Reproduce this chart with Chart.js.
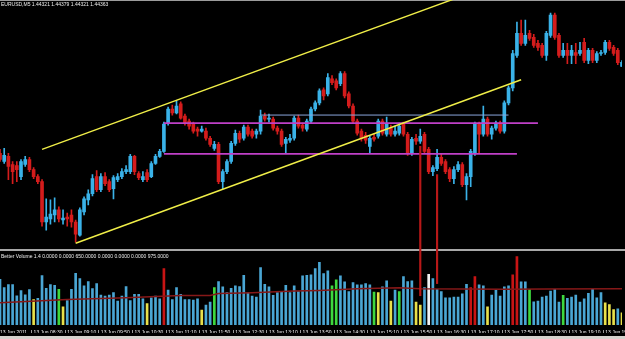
<!DOCTYPE html>
<html><head><meta charset="utf-8">
<script src="https://cdn.jsdelivr.net/npm/chart.js@4.4.1/dist/chart.umd.min.js"></script>
<style>
html,body{margin:0;padding:0;background:#000;overflow:hidden;}
#wrap{position:relative;width:625px;height:339px;background:#000;}
canvas{display:block;}
</style></head><body>
<div id="wrap"><canvas id="c" width="625" height="339"></canvas></div>
<script>
// ---- categories (M5 bar times, 13 Jun 2011) ----
const times = ['07:50','07:55',
'08:00','08:05','08:10','08:15','08:20','08:25','08:30','08:35','08:40','08:45','08:50','08:55',
'09:00','09:05','09:10','09:15','09:20','09:25','09:30','09:35','09:40','09:45','09:50','09:55',
'10:00','10:05','10:10','10:15','10:20','10:25','10:30','10:35','10:40','10:45','10:50','10:55',
'11:00','11:05','11:10','11:15','11:20','11:25','11:30','11:35','11:40','11:45','11:50','11:55',
'12:00','12:05','12:10','12:15','12:20','12:25','12:30','12:35','12:40','12:45','12:50','12:55',
'13:00','13:05','13:10','13:15','13:20','13:25','13:30','13:35','13:40','13:45','13:50','13:55',
'14:00','14:05','14:10','14:15','14:20','14:25','14:30','14:35','14:40','14:45','14:50','14:55',
'15:00','15:05','15:10','15:15','15:20','15:25','15:30','15:35','15:40','15:45','15:50','15:55',
'16:00','16:05','16:10','16:15','16:20','16:25','16:30','16:35','16:40','16:45','16:50','16:55',
'17:00','17:05','17:10','17:15','17:20','17:25','17:30','17:35','17:40','17:45','17:50','17:55',
'18:00','18:05','18:10','18:15','18:20','18:25','18:30','18:35','18:40','18:45','18:50','18:55',
'19:00','19:05','19:10','19:15','19:20','19:25','19:30','19:35','19:40','19:45','19:50','19:55',
'20:00','20:05','20:10'];
const dayLabel = '13 Jun 2011';
const datePrefix = '13 Jun ';
const tickEvery = 8;
const symbol = 'EURUSD';
const timeframe = 'M5';

// ---- OHLC series ----
const opens = [
1.4346,1.4338,1.4343,1.4335,1.4334,1.4323,1.4335,1.4340,1.4330,1.4323,
1.4318,1.4278,1.4281,1.4285,1.4290,1.4280,1.4283,1.4285,1.4278,1.4265,
1.4288,1.4300,1.4306,1.4323,1.4310,1.4323,1.4318,1.4311,1.4320,1.4323,
1.4328,1.4328,1.4343,1.4326,1.4320,1.4327,1.4323,1.4336,1.4343,1.4348,
1.4376,1.4390,1.4386,1.4395,1.4383,1.4378,1.4375,1.4370,1.4368,1.4368,
1.4361,1.4351,1.4355,1.4318,1.4328,1.4338,1.4356,1.4366,1.4361,1.4372,
1.4368,1.4365,1.4368,1.4383,1.4380,1.4380,1.4371,1.4368,1.4356,1.4359,
1.4361,1.4381,1.4374,1.4370,1.4378,1.4390,1.4396,1.4409,1.4405,1.4420,
1.4418,1.4415,1.4425,1.4405,1.4393,1.4378,1.4368,1.4364,1.4353,1.4362,
1.4363,1.4378,1.4365,1.4371,1.4365,1.4366,1.4375,1.4365,1.4346,1.4361,
1.4358,1.4365,1.4350,1.4328,1.4331,1.4342,1.4338,1.4330,1.4321,1.4330,
1.4335,1.4315,1.4323,1.4346,1.4375,1.4365,1.4380,1.4365,1.4371,1.4376,
1.4368,1.4396,1.4411,1.4443,1.4465,1.4455,1.4465,1.4461,1.4455,1.4453,
1.4443,1.4463,1.4483,1.4463,1.4443,1.4448,1.4443,1.4446,1.4445,1.4456,
1.4438,1.4448,1.4438,1.4445,1.4446,1.4456,1.4451,1.4448,1.44321];
const highs = [
1.4350,1.4351,1.4346,1.4338,1.4338,1.4340,1.4343,1.4342,1.4332,1.4325,
1.4320,1.4301,1.4300,1.4302,1.4293,1.4290,1.4287,1.4290,1.4280,1.4292,
1.4303,1.4310,1.4325,1.4329,1.4326,1.4327,1.4320,1.4324,1.4326,1.4331,
1.4334,1.4345,1.4344,1.4328,1.4328,1.4330,1.4338,1.4345,1.4350,1.4377,
1.4392,1.4394,1.4398,1.4397,1.4385,1.4380,1.4377,1.4372,1.4373,1.4371,
1.4363,1.4358,1.4357,1.4330,1.4340,1.4358,1.4369,1.4368,1.4374,1.4374,
1.4370,1.4370,1.4389,1.4386,1.4385,1.4382,1.4373,1.4370,1.4362,1.4365,
1.4383,1.4384,1.4376,1.4380,1.4392,1.4398,1.4410,1.4411,1.4425,1.4423,
1.4420,1.4427,1.4427,1.4407,1.4395,1.4380,1.4370,1.4367,1.4363,1.4365,
1.4380,1.4380,1.4382,1.4374,1.4373,1.4376,1.4377,1.4367,1.4362,1.4365,
1.4370,1.4367,1.4352,1.4334,1.4350,1.4345,1.4340,1.4332,1.4333,1.4338,
1.4337,1.4326,1.4350,1.4377,1.4377,1.4393,1.4382,1.4373,1.4378,1.4378,
1.4398,1.4413,1.4448,1.4476,1.4478,1.4478,1.4468,1.4464,1.4458,1.4455,
1.4467,1.4485,1.4485,1.4465,1.4455,1.4455,1.4453,1.4455,1.4456,1.4460,
1.4450,1.4450,1.4447,1.4448,1.4458,1.4458,1.4453,1.4450,1.44379];
const lows = [
1.4338,1.4336,1.4320,1.4316,1.4318,1.4320,1.4333,1.4328,1.4321,1.4316,
1.4274,1.4270,1.4276,1.4278,1.4278,1.4276,1.4274,1.4273,1.4258,1.4264,
1.4285,1.4295,1.4304,1.4308,1.4308,1.4314,1.4308,1.4301,1.4318,1.4321,
1.4326,1.4326,1.4325,1.4320,1.4318,1.4318,1.4322,1.4335,1.4342,1.4347,
1.4374,1.4384,1.4385,1.4380,1.4374,1.4370,1.4366,1.4363,1.4367,1.4359,
1.4353,1.4349,1.4316,1.4311,1.4326,1.4336,1.4354,1.4357,1.4359,1.4363,
1.4361,1.4361,1.4365,1.4378,1.4377,1.4369,1.4365,1.4353,1.4346,1.4357,
1.4359,1.4371,1.4368,1.4368,1.4376,1.4388,1.4394,1.4399,1.4403,1.4414,
1.4409,1.4413,1.4401,1.4391,1.4376,1.4364,1.4358,1.4356,1.4346,1.4358,
1.4361,1.4364,1.4363,1.4363,1.4363,1.4364,1.4363,1.4344,1.4344,1.4355,
1.4356,1.4346,1.4326,1.4324,1.4329,1.4334,1.4326,1.4318,1.4316,1.4328,
1.4313,1.4300,1.4313,1.4344,1.4346,1.4363,1.4363,1.4360,1.4369,1.4366,
1.4366,1.4394,1.4408,1.4441,1.4453,1.4453,1.4458,1.4451,1.4448,1.4441,
1.4438,1.4461,1.4459,1.4441,1.4441,1.4435,1.4435,1.4435,1.4443,1.4436,
1.4435,1.4436,1.4436,1.4443,1.4444,1.4448,1.4443,1.4434,1.44321];
const closes = [
1.4340,1.4344,1.4333,1.4328,1.4330,1.4338,1.4340,1.4330,1.4323,1.4318,
1.4278,1.4283,1.4286,1.4290,1.4281,1.4282,1.4281,1.4278,1.4266,1.4290,
1.4301,1.4306,1.4321,1.4310,1.4323,1.4316,1.4310,1.4322,1.4323,1.4328,
1.4330,1.4343,1.4328,1.4322,1.4323,1.4320,1.4336,1.4343,1.4348,1.4375,
1.4390,1.4386,1.4393,1.4381,1.4376,1.4373,1.4368,1.4368,1.4370,1.4361,
1.4355,1.4355,1.4318,1.4328,1.4338,1.4356,1.4366,1.4360,1.4372,1.4365,
1.4363,1.4368,1.4383,1.4380,1.4381,1.4371,1.4368,1.4355,1.4360,1.4361,
1.4381,1.4373,1.4371,1.4378,1.4390,1.4396,1.4408,1.4403,1.4421,1.4416,
1.4411,1.4425,1.4403,1.4393,1.4378,1.4366,1.4361,1.4359,1.4361,1.4360,
1.4378,1.4366,1.4375,1.4365,1.4368,1.4373,1.4365,1.4346,1.4360,1.4358,
1.4363,1.4348,1.4328,1.4332,1.4342,1.4336,1.4328,1.4321,1.4330,1.4335,
1.4315,1.4323,1.4348,1.4375,1.4365,1.4380,1.4365,1.4371,1.4376,1.4368,
1.4396,1.4411,1.4445,1.4465,1.4455,1.4463,1.4460,1.4453,1.4451,1.4443,
1.4465,1.4483,1.4461,1.4443,1.4448,1.4443,1.4448,1.4443,1.4448,1.4438,
1.4448,1.4438,1.4445,1.4446,1.4456,1.4450,1.4445,1.4436,1.44363];

// ---- Better Volume indicator ----
const volumes = [
453,370,400,400,290,340,300,350,253,263,
490,363,400,393,353,180,243,353,513,460,
387,430,360,410,297,287,297,320,237,287,
380,243,303,303,260,213,270,287,260,560,
347,253,370,303,253,253,247,260,147,197,
227,370,430,377,320,363,387,380,493,320,
287,277,570,403,377,293,320,330,393,320,
387,330,487,493,497,560,620,510,537,387,
447,487,427,330,420,397,397,410,397,327,
320,377,437,237,347,330,480,430,437,227,
197,370,503,460,353,330,270,270,277,277,
310,403,370,480,397,387,180,297,347,287,
377,387,497,677,427,427,353,230,237,277,
287,337,353,227,293,263,277,297,227,260,
313,353,270,320,220,203,153,160,120];
// N normal, L low volume, C churn, U climax up, D climax down
const volType = [
'N','N','N','N','N','N','N','N','L','N',
'N','N','N','N','C','L','N','N','N','N',
'N','N','N','N','N','N','N','N','N','N',
'N','N','N','N','N','L','N','N','N','U',
'N','N','N','N','N','N','N','N','L','N',
'N','C','N','N','N','N','N','N','N','N',
'N','N','N','N','N','N','N','N','N','N',
'N','N','N','N','N','N','N','N','N','C',
'C','N','N','N','N','N','N','N','N','C',
'L','N','N','L','N','C','N','N','N','L',
'L','N','D','N','N','N','N','N','N','N',
'N','N','U','U','N','N','L','N','N','N',
'N','N','U','U','N','N','C','N','N','N',
'N','N','N','N','C','N','N','N','N','N',
'N','N','N','N','L','L','L','N','L'];
const volAvgIdx = [0,16,30,40,43,50,52,60,70,76,85,95,100,110,120,130,148];
const volAvgVal = [220,253,270,287,293,293,313,320,337,343,360,370,360,357,353,357,360];
const volBuffers = ['1.4','0.0000','0.0000','650.0000','0.0000','0.0000','0.0000','975.0000'];

// ---- drawn objects (bar index, price) ----
const channelUpper = [[10, 1.4350], [110, 1.4502]];
const channelLower = [[18, 1.4257], [124, 1.4419]];
const rangeTop = [[39, 1.4376], [128, 1.4376]];
const rangeBottom = [[39, 1.43455], [123, 1.43455]];
const levelBlue = [[62, 1.4384], [121, 1.4384]];
const spikeIdx = [100, 104];
const spikeTop = [1.4353, 1.4325];
const spikeBottom = [1.4205, 1.4217];

// ---- styles ----
const BULL = '#3ab2e8', BEAR = '#d41c1c';
const VOLCOL = {N:'#4aa6d4', L:'#e8e04a', C:'#3ed83e', U:'#c81414', D:'#f2f2f2'};

const pts = arr => arr.map(p => ({x: times[p[0]], y: p[1]}));
const candleColor = opens.map((o, i) => closes[i] >= o ? BULL : BEAR);
const last = opens.length - 1;
const titleText = symbol + ',' + timeframe + ' ' +
  [opens[last], highs[last], lows[last], closes[last]].map(v => v.toFixed(5)).join(' ');
const volLabel = 'Better Volume ' + volBuffers.join(' ');

const mt4Chrome = {
  id: 'mt4Chrome',
  beforeDatasetsDraw(chart) {
    const {ctx, width} = chart;
    const yv = chart.scales.yv;
    ctx.save();
    ctx.fillStyle = '#9c9c9c';
    ctx.fillRect(0, 0, width, 1);
    ctx.fillStyle = '#a8a8a8';
    ctx.fillRect(0, Math.round(yv.top), width, 2);
    ctx.restore();
  },
  afterDraw(chart) {
    const {ctx, width, height} = chart;
    const yv = chart.scales.yv;
    ctx.save();
    ctx.font = '5px "Liberation Sans", Arial, sans-serif';
    ctx.fillStyle = '#ececec';
    ctx.textBaseline = 'middle';
    ctx.textAlign = 'left';
    ctx.fillText(titleText, 1, 5);
    ctx.fillText(volLabel, 1, yv.top + 7);
    ctx.fillStyle = '#d6d3ce';
    ctx.fillRect(0, height - 3, width, 3);
    ctx.restore();
  }
};

const hiddenY = {
  display: true,
  position: 'left',
  grid: {display: false},
  border: {display: false},
  ticks: {display: false},
  afterFit: s => { s.width = 0; }
};

new Chart(document.getElementById('c'), {
  type: 'bar',
  data: {
    labels: times,
    datasets: [
      { type: 'bar', data: spikeIdx.map((k, j) => ({x: times[k], y: [spikeTop[j], spikeBottom[j]]})),
        backgroundColor: '#b81818', barThickness: 1.5, grouped: false, clip: false, yAxisID: 'y', order: 0 },
      { type: 'line', data: pts(channelUpper), borderColor: '#f0ee48', borderWidth: 1.4,
        pointRadius: 0, fill: false, clip: false, yAxisID: 'y', order: 1 },
      { type: 'line', data: pts(channelLower), borderColor: '#f0ee48', borderWidth: 1.4,
        pointRadius: 0, fill: false, clip: false, yAxisID: 'y', order: 1 },
      { type: 'line', data: pts(rangeTop), borderColor: '#c040c8', borderWidth: 1.8,
        pointRadius: 0, fill: false, yAxisID: 'y', order: 2 },
      { type: 'line', data: pts(rangeBottom), borderColor: '#c040c8', borderWidth: 1.8,
        pointRadius: 0, fill: false, yAxisID: 'y', order: 2 },
      { type: 'line', data: pts(levelBlue), borderColor: '#8aa6dc', borderWidth: 1,
        pointRadius: 0, fill: false, yAxisID: 'y', order: 2 },
      { type: 'bar', data: opens.map((o, i) => [o, closes[i]]), backgroundColor: candleColor,
        barThickness: 3, minBarLength: 1, grouped: false, yAxisID: 'y', order: 3 },
      { type: 'bar', data: lows.map((l, i) => [l, highs[i]]), backgroundColor: candleColor,
        barThickness: 1, grouped: false, yAxisID: 'y', order: 4 },
      { type: 'line', data: volAvgIdx.map((k, j) => ({x: times[k], y: volAvgVal[j]})),
        borderColor: '#861818', borderWidth: 1.5, pointRadius: 0, fill: false, yAxisID: 'yv', order: 5 },
      { type: 'bar', data: volumes, backgroundColor: volType.map(t => VOLCOL[t]),
        barThickness: 2, grouped: false, yAxisID: 'yv', order: 6 }
    ]
  },
  options: {
    responsive: false,
    animation: false,
    events: [],
    layout: {padding: {top: 2, right: 3, left: 0, bottom: 6}},
    plugins: {legend: {display: false}, tooltip: {enabled: false}, title: {display: false}},
    scales: {
      x: {
        type: 'category',
        offset: false,
        border: {display: false},
        grid: {
          display: true, drawOnChartArea: false, drawTicks: true, tickLength: 8,
          color: c => (c.index % tickEvery === 0 ? '#9a9a9a' : 'rgba(0,0,0,0)'),
          tickBorderDash: [0, 5, 3, 30]
        },
        ticks: {
          autoSkip: false, maxRotation: 0, minRotation: 0, align: 'start', padding: -3,
          color: '#f2f2f2', font: {family: 'Liberation Sans', size: 5},
          callback: (v, i) => (i % tickEvery === 0 ? (i === 0 ? dayLabel : datePrefix + times[i]) : '')
        }
      },
      y: Object.assign({}, hiddenY, {stack: 'panes', stackWeight: 245, weight: 2, min: 1.4251, max: 1.4496}),
      yv: Object.assign({}, hiddenY, {stack: 'panes', stackWeight: 75, weight: 1, min: 0, max: 750})
    }
  },
  plugins: [mt4Chrome]
});
</script></body></html>
